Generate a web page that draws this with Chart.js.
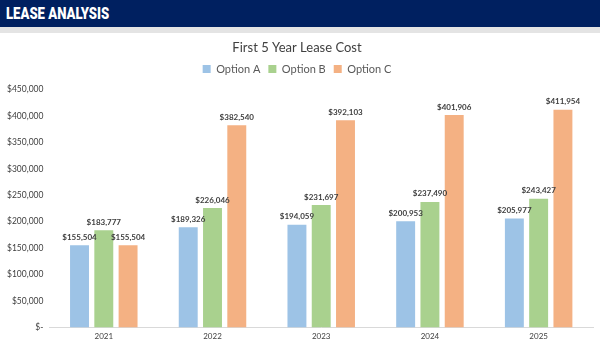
<!DOCTYPE html>
<html>
<head>
<meta charset="utf-8">
<title>Lease Analysis</title>
<script src="https://cdn.jsdelivr.net/npm/chart.js"></script>
<style>
  html, body { margin: 0; padding: 0; background: #fff; }
  body { width: 600px; height: 345px; overflow: hidden; font-family: Lato, Arial, sans-serif; }
  .header { height: 27px; background: #002060; overflow: hidden; }
  .header span { display: inline-block; color: #fff; font-family: Roboto, Arial, sans-serif; font-weight: 900;
                 font-size: 16px; line-height: 27px; margin-left: 6px; transform: scaleX(0.82); transform-origin: left center; }
  .band { height: 6px; background: #e4e4e4; }
  .wrap { position: relative; width: 600px; height: 312px; }
</style>
</head>
<body>
<div class="header"><span>LEASE ANALYSIS</span></div>
<div class="band"></div>
<div class="wrap"><canvas id="grafico"></canvas></div>
<script>
// dados
const anos = ["2021", "2022", "2023", "2024", "2025"];
const opcaoA = [155504, 189326, 194059, 200953, 205977];
const opcaoB = [183777, 226046, 231697, 237490, 243427];
const opcaoC = [155504, 382540, 392103, 401906, 411954];
const ticksY = [0, 50000, 100000, 150000, 200000, 250000, 300000, 350000, 400000, 450000];

const fonte = "Lato, Arial, sans-serif";
const fmt = v => v === 0 ? "$-" : "$" + v.toLocaleString("en-US");

// rótulos acima das barras
const rotulos = {
  id: "rotulos",
  afterDatasetsDraw(chart) {
    const ctx = chart.ctx;
    ctx.save();
    ctx.font = "bold 8px " + fonte;
    ctx.fillStyle = "#404040";
    ctx.textAlign = "center";
    ctx.textBaseline = "bottom";
    chart.data.datasets.forEach((ds, i) => {
      chart.getDatasetMeta(i).data.forEach((bar, j) => {
        ctx.fillText(fmt(ds.data[j]), bar.x, bar.y - 4);
      });
    });
    ctx.restore();
  }
};

// espaço extra abaixo da legenda
const espacoLegenda = {
  id: "espacoLegenda",
  afterInit(chart) {
    const fit = chart.legend.fit;
    chart.legend.fit = function () {
      fit.call(this);
      this.height += 5;
    };
  }
};

const ctx = document.getElementById("grafico").getContext("2d");
new Chart(ctx, {
  type: "bar",
  data: {
    labels: anos,
    datasets: [
      { label: "Option A", data: opcaoA, backgroundColor: "#9dc3e6" },
      { label: "Option B", data: opcaoB, backgroundColor: "#a9d18e" },
      { label: "Option C", data: opcaoC, backgroundColor: "#f4b183" }
    ]
  },
  options: {
    responsive: true,
    maintainAspectRatio: false,
    animation: false,
    layout: { padding: { left: 1, right: 7, top: 3, bottom: 0 } },
    datasets: { bar: { categoryPercentage: 0.67, barPercentage: 0.78 } },
    plugins: {
      title: {
        display: true, text: "First 5 Year Lease Cost", color: "#404040",
        font: { family: fonte, size: 13, weight: "normal" },
        padding: { top: 4, bottom: 0 }
      },
      legend: {
        labels: {
          boxWidth: 8, boxHeight: 8, color: "#595959", padding: 8,
          font: { family: fonte, size: 11 }
        }
      },
      tooltip: { enabled: false }
    },
    scales: {
      x: {
        grid: { display: false, drawTicks: false },
        border: { color: "#d9d9d9" },
        ticks: { color: "#404040", padding: 4, font: { family: fonte, size: 8 } }
      },
      y: {
        min: 0, max: 450000,
        afterBuildTicks: axis => { axis.ticks = ticksY.map(v => ({ value: v })); },
        grid: { display: false, drawTicks: false },
        border: { display: false },
        ticks: {
          color: "#404040", padding: 6,
          font: { family: fonte, size: 8.5 },
          callback: v => fmt(v)
        }
      }
    }
  },
  plugins: [rotulos, espacoLegenda]
});
</script>
</body>
</html>
